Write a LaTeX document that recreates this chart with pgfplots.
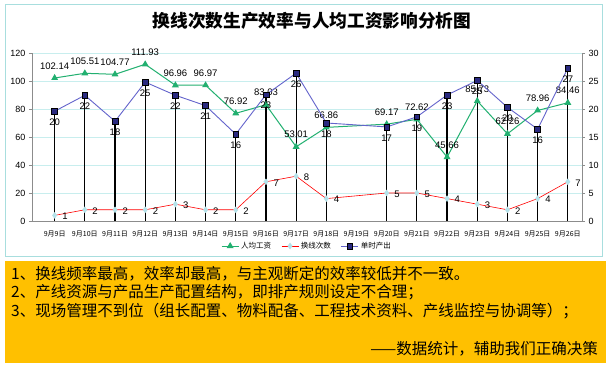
\documentclass[border=0pt]{standalone}
\usepackage{fontspec}
\setmainfont{Liberation Sans}
\newfontfamily\cjk{Noto Sans CJK SC}
\usepackage{pgfplots}
\usepackage{pgfplotstable}
\pgfplotsset{compat=1.18}
\definecolor{gr}{HTML}{22B070}
\definecolor{navyf}{HTML}{2A2A80}
\definecolor{navyl}{HTML}{6464CC}
\definecolor{dia}{HTML}{B4E2EA}
\definecolor{gridc}{HTML}{C8EEEE}
\definecolor{bordc}{HTML}{A8DEDE}
\definecolor{axc}{HTML}{8C8C8C}
\definecolor{orng}{HTML}{FFC000}

\pgfplotstableread{
x w
0 102.14
1 105.51
2 104.77
3 111.93
4 96.96
5 96.97
6 76.92
7 83.03
8 53.01
9 66.86
11 69.17
12 72.62
13 45.66
14 85.73
15 62.26
16 78.96
17 84.46
}\wage

\pgfplotstableread{
x c
0 1
1 2
2 2
3 2
4 3
5 2
6 2
7 7
8 8
9 4
11 5
12 5
13 4
14 3
15 2
16 4
17 7
}\chg

\pgfplotstableread{
x o lab
0 19.6 20
1 22.45 22
2 17.8 18
3 24.8 25
4 22.45 22
5 20.6 21
6 15.5 16
7 22.55 23
8 26.4 26
9 17.5 18
11 16.8 17
12 18.6 19
13 22.5 23
14 25.1 25
15 20.3 20
16 16.4 16
17 27.3 27
}\outp

\tikzset{lab/.style={font=\fontsize{9.5}{10}\selectfont, text=black}}
\pgfplotsset{
  /pgf/number format/assume math mode=true,
  base/.style={scale only axis, width=550pt, height=168pt,
    at={(32pt,145pt)}, anchor=south west,
    xmin=-0.75, xmax=17.47, clip=false},
}

\begin{document}
\begin{tikzpicture}[x=1pt,y=1pt]
\useasboundingbox (0,0) rectangle (609,366);
\fill[white] (0,0) rectangle (609,366);
\draw[bordc, line width=0.8pt] (5,110) rectangle (602,362);
\fill[orng] (5,3) rectangle (606,105);
\node[font=\cjk\bfseries\fontsize{17.7}{20}\selectfont] at (312,345.3) {换线次数生产效率与人均工资影响分析图};

% Axis A: left scale, grid and axes
\begin{axis}[base,
  ymin=0, ymax=120, ytick={0,20,...,120},
  ymajorgrids, grid style={gridc, line width=0.6pt},
  axis x line*=bottom, axis y line*=left,
  axis line style={-, draw=axc, line width=0.6pt},
  xtick={0,...,17},
  xticklabels={9月9日,9月10日,9月11日,9月12日,9月13日,9月14日,9月15日,9月16日,9月17日,9月18日,9月19日,9月20日,9月21日,9月22日,9月23日,9月24日,9月25日,9月26日},
  xticklabel style={font=\cjk\fontsize{7}{8}\selectfont, yshift=-3pt},
  x tick style={draw=none},
  y tick style={draw=axc, line width=0.6pt},
  tick align=outside, major tick length=3pt,
  yticklabel style={font=\fontsize{9}{10}\selectfont},
]
\addplot[draw=none] coordinates {(0,0)};
\end{axis}

% Axis B: right scale, drop lines and right axis
\begin{axis}[base,
  ymin=0, ymax=30, ytick={0,5,...,30},
  axis y line*=right, axis x line=none,
  axis line style={-, draw=axc, line width=0.6pt},
  y tick style={draw=axc, line width=0.6pt},
  tick align=outside, major tick length=3pt,
  yticklabel style={font=\fontsize{9}{10}\selectfont},
]
\addplot[ycomb, black, line width=1.2pt, no marks] table[x=x,y=o] {\outp};
\end{axis}

% Axis C: left scale, wage series
\begin{axis}[base, ymin=0, ymax=120, hide axis]
\addplot[gr, line width=1pt, mark=triangle*, mark size=3pt,
  mark options={fill=gr, draw=gr},
  nodes near coords={\pgfmathprintnumber[fixed,precision=2,fixed zerofill]{\pgfplotspointmeta}},
  every node near coord/.append style={lab, anchor=south, yshift=5pt}]
  table[x=x,y=w] {\wage};
\end{axis}

% Axis D: right scale, change count and output
\begin{axis}[base, ymin=0, ymax=30, hide axis,
  legend columns=3,
  legend style={draw=none, fill=none, at={(0.5,-0.149)}, anchor=center,
    font=\cjk\fontsize{7.5}{8}\selectfont,
    /tikz/every even column/.append style={column sep=8pt}},
]
\addlegendimage{gr, line width=1pt, mark=triangle*, mark size=3pt, mark options={fill=gr, draw=gr}}
\addlegendentry{人均工资}
\addplot[red, line width=0.6pt, mark=diamond*, mark size=2.8pt,
  mark options={fill=dia, draw=dia},
  nodes near coords,
  every node near coord/.append style={lab, anchor=west, xshift=4pt, yshift=-1pt}]
  table[x=x,y=c] {\chg};
\addlegendentry{换线次数}
\addplot[navyl, line width=0.9pt, mark=square*, mark size=2.9pt,
  mark options={fill=navyf, draw=black, line width=0.6pt},
  point meta=explicit symbolic,
  nodes near coords,
  every node near coord/.append style={lab, anchor=north, yshift=-4pt}]
  table[x=x,y=o,meta=lab] {\outp};
\addlegendentry{单时产出}
\end{axis}

\begin{scope}[font=\cjk\fontsize{15.5}{18}\selectfont]
\node[anchor=west, inner sep=0] at (11,92) {1、换线频率最高，效率却最高，与主观断定的效率较低并不一致。};
\node[anchor=west, inner sep=0] at (11,73.7) {2、产线资源与产品生产配置结构，即排产规则设定不合理；};
\node[anchor=west, inner sep=0] at (11,55) {3、现场管理不到位（组长配置、物料配备、工程技术资料、产线监控与协调等）；};
\node[anchor=east, inner sep=0] at (598,17) {——数据统计，辅助我们正确决策};
\end{scope}
\end{tikzpicture}
\end{document}
